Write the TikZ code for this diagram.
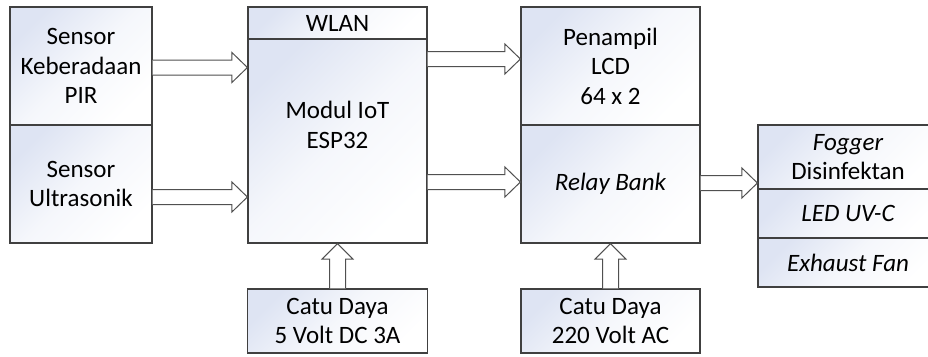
\documentclass[tikz,border=0pt]{standalone}
\usepackage{fontspec}
\setmainfont{Carlito}
\usetikzlibrary{calc}
\definecolor{boxc}{RGB}{222,228,243}
\definecolor{edgec}{RGB}{64,64,64}
\definecolor{arrc}{RGB}{80,80,80}
\tikzset{
  blk/.style={draw=edgec, line width=1.2pt, top color=boxc, bottom color=white, middle color=white!70!boxc, shading angle=45,
    inner sep=0pt, align=center, font=\fontsize{25}{29.5}\selectfont},
  lbl/.style={inner sep=0pt, align=center, font=\fontsize{25}{29.5}\selectfont},
  barrow/.style={draw=arrc, fill=white, line width=1pt, line join=miter},
}
\newcommand\harr[2]{\draw[barrow] ($(#1)+(0,7.5)$) -- ($(#2)+(-15.5,7.5)$) -- ($(#2)+(-15.5,15)$) -- (#2) -- ($(#2)+(-15.5,-15)$) -- ($(#2)+(-15.5,-7.5)$) -- ($(#1)+(0,-7.5)$);}
\newcommand\varr[2]{\draw[barrow] ($(#1)+(-8,0)$) -- ($(#2)+(-8,15.5)$) -- ($(#2)+(-15.5,15.5)$) -- (#2) -- ($(#2)+(15.5,15.5)$) -- ($(#2)+(8,15.5)$) -- ($(#1)+(8,0)$);}
\begin{document}
\begin{tikzpicture}[x=1pt,y=-1pt]
\useasboundingbox (0,0) rectangle (928,356);
% left sensors
\node[blk, minimum width=142pt, minimum height=118pt] (pir) at (81,66) {Sensor\\Keberadaan\\PIR};
\node[blk, minimum width=142pt, minimum height=118pt] (ultra) at (81,184) {Sensor\\Ultrasonik};
% ESP32 module
\node[blk, minimum width=179pt, minimum height=32pt] (wlan) at (337.5,23) {WLAN};
\node[blk, minimum width=179pt, minimum height=204pt] (esp) at (337.5,141) {};
\node[lbl] (esptxt) at (337.5,125) {Modul IoT\\ESP32};
% LCD and relay
\node[blk, minimum width=179pt, minimum height=118pt] (lcd) at (610.5,66) {Penampil\\LCD\\64 x 2};
\node[blk, minimum width=179pt, minimum height=118pt] (relay) at (610.5,184) {\itshape Relay Bank};
% power supplies
\node[blk, minimum width=180pt, minimum height=64pt] (cd5) at (337.5,321) {Catu Daya\\5 Volt DC 3A};
\node[blk, minimum width=179pt, minimum height=64pt] (cd220) at (610.5,321) {Catu Daya\\220 Volt AC};
% outputs
\node[blk, minimum width=180pt, minimum height=64pt] (fog) at (848,157) {\itshape Fogger\\Disinfektan};
\node[blk, minimum width=180pt, minimum height=49pt] (led) at (848,213.5) {\itshape LED UV-C};
\node[blk, minimum width=180pt, minimum height=49pt] (fan) at (848,262.5) {\itshape Exhaust Fan};
% arrow coordinates
\coordinate (y1) at (0,67.5);
\coordinate (y2) at (0,197);
\coordinate (y3) at (0,59);
\coordinate (y4) at (0,182);
\coordinate (y5) at (0,183);
\coordinate (a1s) at (pir.east |- y1);   \coordinate (a1e) at (esp.west |- y1);
\coordinate (a2s) at (ultra.east |- y2); \coordinate (a2e) at (esp.west |- y2);
\coordinate (a3s) at (esp.east |- y3);   \coordinate (a3e) at (lcd.west |- y3);
\coordinate (a4s) at (esp.east |- y4);   \coordinate (a4e) at (relay.west |- y4);
\coordinate (a5s) at (relay.east |- y5); \coordinate (a5e) at (fog.west |- y5);
\harr{a1s}{a1e}
\harr{a2s}{a2e}
\harr{a3s}{a3e}
\harr{a4s}{a4e}
\harr{a5s}{a5e}
\varr{cd5.north}{esp.south}
\varr{cd220.north}{relay.south}
\end{tikzpicture}
\end{document}
